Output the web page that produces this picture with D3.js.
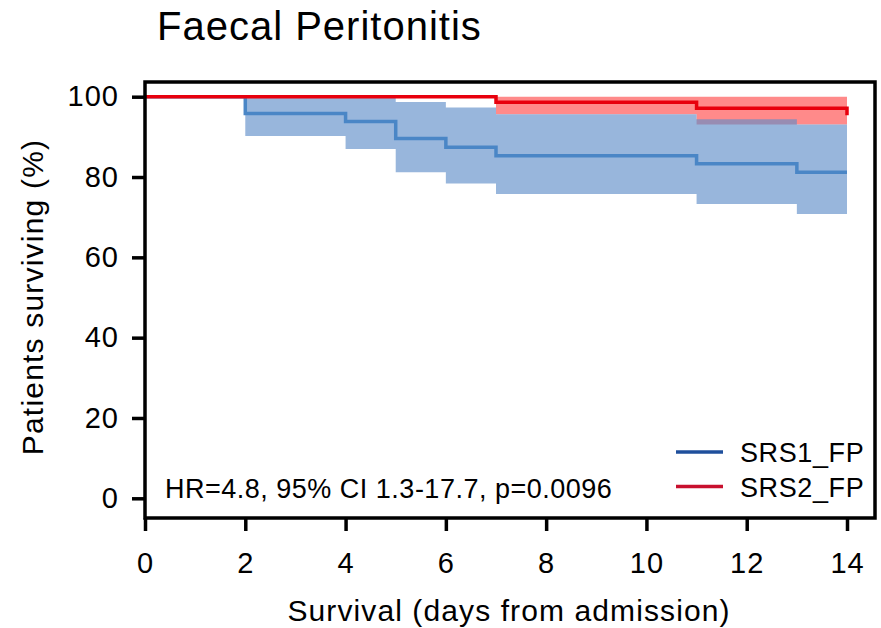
<html>
	<head>
		<title>Faecal Peritonitis</title>
		<script src="https://d3js.org/d3.v7.min.js"></script>
		<style>
			body { margin: 0; background: #fff; }
			text { font-family: "Liberation Sans", Arial, Helvetica, sans-serif; fill: #000; }
		</style>
	</head>
	<body>
		<div id="chart"></div>
	</body>
	<script defer>
		// SRS1_FP (blue) step points, survival % and 95% band
		var days1 = [0, 2, 4, 5, 6, 7, 11, 13, 14];
		var surv1 = [100, 95.8, 93.8, 89.6, 87.4, 85.3, 83.3, 81.2, 81.2];
		var upper1 = [100, 100, 100, 98.7, 97.3, 95.6, 94.4, 93.1, 93.1];
		var lower1 = [100, 90.2, 87.0, 81.2, 78.4, 75.8, 73.3, 70.8, 70.8];

		// SRS2_FP (red)
		var days2 = [0, 7, 11, 14];
		var surv2 = [100, 98.6, 97.1, 95.4];
		var upper2 = [100, 100, 100, 100];
		var lower2 = [100, 95.6, 93.1, 93.1];

		var xTicks = [0, 2, 4, 6, 8, 10, 12, 14];
		var yTicks = [0, 20, 40, 60, 80, 100];
		var legendNames = ["SRS1_FP", "SRS2_FP"];
		var legendColors = ["#1f4f9c", "#c8102e"];
		var statsText = "HR=4.8, 95% CI 1.3-17.7, p=0.0096";

		var width = 881, height = 628;
		var svg = d3.select("#chart")
			.append("svg")
			.attr("width", width)
			.attr("height", height);

		var x = d3.scaleLinear().domain([0, 14]).range([145, 847]);
		var y = d3.scaleLinear().domain([0, 100]).range([498.3, 96.7]);

		var boxLeft = 145, boxRight = 875, boxTop = 82, boxBottom = 518;

		function steps(days, vals) {
			return days.map(function(d, i){ return [d, vals[i]]; });
		}
		function bands(days, lo, hi) {
			return days.map(function(d, i){ return {d: d, lo: lo[i], hi: hi[i]}; });
		}

		var area = d3.area()
			.curve(d3.curveStepAfter)
			.x(function(p){ return x(p.d); })
			.y0(function(p){ return y(p.lo); })
			.y1(function(p){ return y(p.hi); });

		var line = d3.line()
			.curve(d3.curveStepAfter)
			.x(function(p){ return x(p[0]); })
			.y(function(p){ return y(p[1]); });

		// confidence bands
		svg.append("path")
			.attr("d", area(bands(days2, lower2, upper2)))
			.attr("fill", "#ff8a8a");
		svg.append("path")
			.attr("d", area(bands(days1, lower1, upper1)))
			.attr("fill", "rgb(94,141,200)")
			.attr("fill-opacity", 0.64);

		// survival lines
		svg.append("path")
			.attr("d", line(steps(days1, surv1)))
			.attr("fill", "none")
			.attr("stroke", "#4a86c6")
			.attr("stroke-width", 3.5);
		svg.append("path")
			.attr("d", line(steps(days2, surv2)))
			.attr("fill", "none")
			.attr("stroke", "#e8000d")
			.attr("stroke-width", 3.5);

		// frame
		svg.append("rect")
			.attr("x", boxLeft)
			.attr("y", boxTop)
			.attr("width", boxRight - boxLeft)
			.attr("height", boxBottom - boxTop)
			.attr("fill", "none")
			.attr("stroke", "#000")
			.attr("stroke-width", 3.5);

		// axes
		var xAxis = d3.axisBottom(x).tickValues(xTicks).tickSize(13).tickPadding(12).tickSizeOuter(0);
		var gx = svg.append("g")
			.attr("transform", "translate(0," + boxBottom + ")")
			.call(xAxis);
		var yAxis = d3.axisLeft(y).tickValues(yTicks).tickSize(13).tickPadding(13).tickSizeOuter(0);
		var gy = svg.append("g")
			.attr("transform", "translate(" + boxLeft + ",0)")
			.call(yAxis);
		[gx, gy].forEach(function(g){
			g.select(".domain").remove();
			g.selectAll("line").attr("stroke", "#000").attr("stroke-width", 3.5);
			g.selectAll("text")
				.attr("font-family", null)
				.style("font-size", "29px")
				.style("letter-spacing", "1px");
		});
		gx.selectAll("text").attr("dy", null).attr("y", 55);

		// legend
		var leg = svg.selectAll(".leg")
			.data(legendNames)
			.enter()
			.append("g")
			.attr("transform", function(d, i){ return "translate(0," + (452 + i * 34.5) + ")"; });
		leg.append("line")
			.attr("x1", 676).attr("x2", 723)
			.attr("stroke", function(d, i){ return legendColors[i]; })
			.attr("stroke-width", 3.5);
		leg.append("text")
			.attr("x", 740)
			.attr("y", 10)
			.style("font-size", "27px")
			.style("letter-spacing", "0.6px")
			.text(function(d){ return d; });

		svg.append("text")
			.attr("x", 165)
			.attr("y", 498)
			.style("font-size", "27px")
			.style("letter-spacing", "0.5px")
			.text(statsText);

		// titles
		svg.append("text")
			.attr("x", 157)
			.attr("y", 40)
			.style("font-size", "40px")
			.style("letter-spacing", "1px")
			.text("Faecal Peritonitis");
		svg.append("text")
			.attr("x", 509)
			.attr("y", 621)
			.attr("text-anchor", "middle")
			.style("font-size", "30px")
			.style("letter-spacing", "1.1px")
			.text("Survival (days from admission)");
		svg.append("text")
			.attr("transform", "translate(43,297) rotate(-90)")
			.attr("text-anchor", "middle")
			.style("font-size", "30px")
			.style("letter-spacing", "1.2px")
			.text("Patients surviving (%)");
	</script>
</html>
